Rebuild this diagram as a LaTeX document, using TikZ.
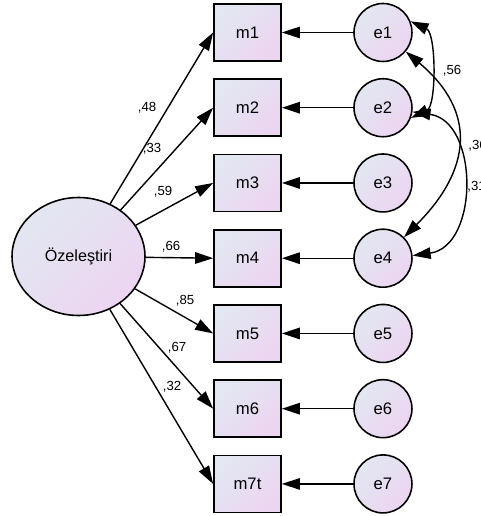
\documentclass[tikz,border=0pt]{standalone}
\usepackage{fontspec}
\setmainfont{Liberation Sans}
\usepackage{tikz}
\usetikzlibrary{shapes.geometric,arrows.meta,positioning}

\definecolor{shadeA}{HTML}{E2E7F1}
\definecolor{shadeB}{HTML}{ECD5F1}

\begin{document}
\begin{tikzpicture}[
    x=0.02cm, y=0.02cm,
    node distance=1.505cm and 2.71cm, on grid,
    latent/.style={ellipse, draw, line width=0.9pt, top color=shadeA, bottom color=shadeB, shading angle=45, minimum width=2.66cm, minimum height=2.36cm, inner sep=0pt, font=\fontsize{9.2}{11}\selectfont},
    item/.style={rectangle, draw, line width=1pt, top color=shadeA, bottom color=shadeB, shading angle=45, minimum width=1.34cm, minimum height=1.14cm, inner sep=0pt, font=\fontsize{9.5}{11}\selectfont},
    err/.style={circle, draw, line width=0.9pt, top color=shadeA, bottom color=shadeB, shading angle=45, minimum size=1.16cm, inner sep=0pt, font=\fontsize{9.5}{11}\selectfont},
    path/.style={-{Triangle[length=3.6mm,width=2.3mm]}, line width=0.8pt},
    cov/.style={{Triangle[length=3.6mm,width=2.3mm]}-{Triangle[length=3.6mm,width=2.3mm]}, line width=0.8pt},
    coef/.style={inner sep=0pt, font=\fontsize{7.5}{9}\selectfont}
]
    \useasboundingbox (0,0) rectangle (480,-516);

    % Latent factor
    \node[latent] (oz) at (78.5,-256.5) {Özeleştiri};

    % Items
    \node[item] (m1) at (247.5,-32.5) {m1};
    \node[item, below=of m1] (m2) {m2};
    \node[item, below=of m2] (m3) {m3};
    \node[item, below=of m3] (m4) {m4};
    \node[item, below=of m4] (m5) {m5};
    \node[item, below=of m5] (m6) {m6};
    \node[item, below=of m6] (m7) {m7t};

    % Errors
    \node[err, right=of m1] (e1) {e1};
    \node[err, right=of m2] (e2) {e2};
    \node[err, right=of m3] (e3) {e3};
    \node[err, right=of m4] (e4) {e4};
    \node[err, right=of m5] (e5) {e5};
    \node[err, right=of m6] (e6) {e6};
    \node[err, right=of m7] (e7) {e7};

    % Loadings
    \draw[path] (oz) -- (m1.west);
    \draw[path] (oz) -- (m2.west);
    \draw[path] (oz) -- (m3.west);
    \draw[path] (oz) -- (m4.west);
    \draw[path] (oz) -- (m5.west);
    \draw[path] (oz) -- (m6.west);
    \draw[path] (oz) -- (m7.west);

    % Error paths
    \draw[path] (e1) -- (m1);
    \draw[path] (e2) -- (m2);
    \draw[path] (e3) -- (m3);
    \draw[path] (e4) -- (m4);
    \draw[path] (e5) -- (m5);
    \draw[path] (e6) -- (m6);
    \draw[path] (e7) -- (m7);

    % Covariances
    \draw[cov] (e1.22) to[out=-25, in=25, looseness=0.75] (e2.-20);
    \draw[cov] (e1.-40) to[out=-40, in=45, looseness=1.3] (e4.45);
    \draw[cov] (e2.-8) to[out=-8, in=8, looseness=1.2] (e4.5);

    % Coefficients
    \node[coef] (c1) at (147,-108) {,48};
    \node[coef] (c2) at (152,-149) {,33};
    \node[coef] (c3) at (163,-192) {,59};
    \node[coef] (c4) at (171,-247) {,66};
    \node[coef] (c5) at (185,-301) {,85};
    \node[coef] (c6) at (177,-348) {,67};
    \node[coef] (c7) at (172,-387) {,32};
    \node[coef] (r12) at (452,-71) {,56};
    \node[coef, anchor=west] (r14) at (468,-146) {,36};
    \node[coef, anchor=west] (r24) at (467,-187) {,31};
\end{tikzpicture}
\end{document}
